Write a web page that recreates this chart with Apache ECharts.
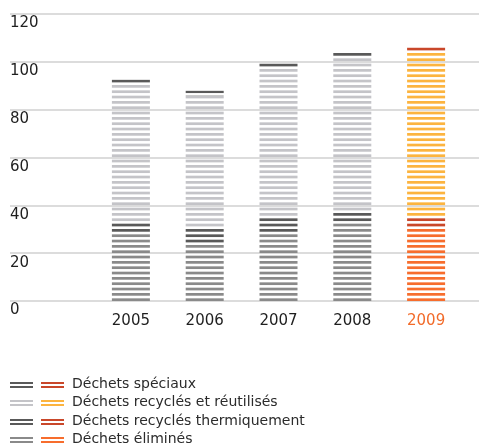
<!DOCTYPE html>
<html>
<head>
<meta charset="utf-8">
<script src="https://cdn.jsdelivr.net/npm/echarts@6.0.0/dist/echarts.min.js"></script>
<style>
  html, body { margin: 0; padding: 0; background: #fff; }
  #chart { width: 479px; height: 444px; }
</style>
</head>
<body>
<div id="chart"></div>
<script>
// Waste volumes per year, stacked bottom to top
const years = ['2005', '2006', '2007', '2008', '2009'];
const highlightYear = '2009';
const yMin = 0, yMax = 120, yStep = 20;

const elimines    = [28.4, 23.9, 28.4, 32.9, 30.6];
const thermiques  = [4.5, 6.6, 6.7, 4.5, 4.5];
const recycles    = [57.9, 55.2, 62.6, 64.6, 69.1];
const speciaux    = [1.8, 2.2, 1.7, 1.7, 1.9];

const nameElimines   = 'Déchets éliminés';
const nameThermiques = 'Déchets recyclés thermiquement';
const nameRecycles   = 'Déchets recyclés et réutilisés';
const nameSpeciaux   = 'Déchets spéciaux';

// Grey tones for past years, warm tones for the current one
const greys  = { elim: '#8a8a8a', therm: '#595959', recy: '#c4c4c8', spec: '#595959' };
const warms  = { elim: '#f76d2d', therm: '#c9472a', recy: '#fcb43f', spec: '#c9472a' };
const FONT = '"DejaVu Sans", sans-serif';

// Horizontal stripe fill: thin bands every 16/3 px, aligned to the canvas origin
function stripes(color) {
  const c = document.createElement('canvas');
  c.width = 8; c.height = 16;
  const ctx = c.getContext('2d');
  ctx.fillStyle = color;
  const period = 16 / 3, half = 1.35, phase = 1.03;
  for (let i = -1; i <= 3; i++) {
    const cy = phase + i * period;
    ctx.fillRect(0, cy - half, 8, half * 2);
  }
  return { image: c, repeat: 'repeat' };
}

function stackSeries(name, values, key) {
  return {
    name: name,
    type: 'bar',
    stack: 'total',
    xAxisIndex: 1,
    yAxisIndex: 1,
    barWidth: 38,
    data: values.map((v, i) => ({
      value: v,
      itemStyle: { color: stripes(years[i] === highlightYear ? warms[key] : greys[key]) }
    }))
  };
}

const chart = echarts.init(document.getElementById('chart'), null, { renderer: 'canvas' });

// Legend rows, listed top to bottom as in the stack
const legendRows = [
  { name: nameSpeciaux,   key: 'spec' },
  { name: nameRecycles,   key: 'recy' },
  { name: nameThermiques, key: 'therm' },
  { name: nameElimines,   key: 'elim' }
];
const legendTop = 384.5, legendStep = 18.3;
const legendGraphics = [];
legendRows.forEach((row, i) => {
  const cy = legendTop + i * legendStep;
  const y0 = Math.round(cy - 2.5);
  [[10, greys[row.key]], [41, warms[row.key]]].forEach(([x, col]) => {
    legendGraphics.push({ type: 'rect', shape: { x: x, y: y0, width: 23, height: 2 }, style: { fill: col }, silent: true });
    legendGraphics.push({ type: 'rect', shape: { x: x, y: y0 + 4, width: 23, height: 2 }, style: { fill: col }, silent: true });
  });
  legendGraphics.push({
    type: 'text', x: 72, y: cy,
    style: { text: row.name, fill: '#2b2b2b', font: '14px ' + FONT, verticalAlign: 'middle' },
    silent: true
  });
});

chart.setOption({
  animation: false,
  grid: [
    { left: 10, right: 0, top: 14, bottom: 143 },
    { left: 94, right: 16, top: 14, bottom: 143 }
  ],
  xAxis: [
    { type: 'category', gridIndex: 0, show: false, data: years },
    {
      type: 'category', gridIndex: 1, data: years,
      axisLine: { show: false }, axisTick: { show: false },
      axisLabel: {
        margin: 13, fontSize: 15, fontFamily: FONT,
        color: (v) => v === highlightYear ? '#f26b2a' : '#1f1f1f'
      }
    }
  ],
  yAxis: [
    {
      type: 'value', gridIndex: 0, min: yMin, max: yMax, interval: yStep,
      axisLine: { show: false }, axisTick: { show: false },
      splitLine: { show: true, lineStyle: { color: '#dcdcdc', width: 2 } },
      axisLabel: {
        inside: true, margin: 0, align: 'left', verticalAlign: 'top',
        fontSize: 15, fontFamily: FONT, color: '#1f1f1f', padding: [2, 0, 0, 0],
        showMinLabel: true, showMaxLabel: true
      }
    },
    {
      type: 'value', gridIndex: 1, min: yMin, max: yMax, interval: yStep,
      show: false, splitLine: { show: false }
    }
  ],
  series: [
    stackSeries(nameElimines, elimines, 'elim'),
    stackSeries(nameThermiques, thermiques, 'therm'),
    stackSeries(nameRecycles, recycles, 'recy'),
    stackSeries(nameSpeciaux, speciaux, 'spec')
  ],
  graphic: legendGraphics
});
</script>
</body>
</html>
